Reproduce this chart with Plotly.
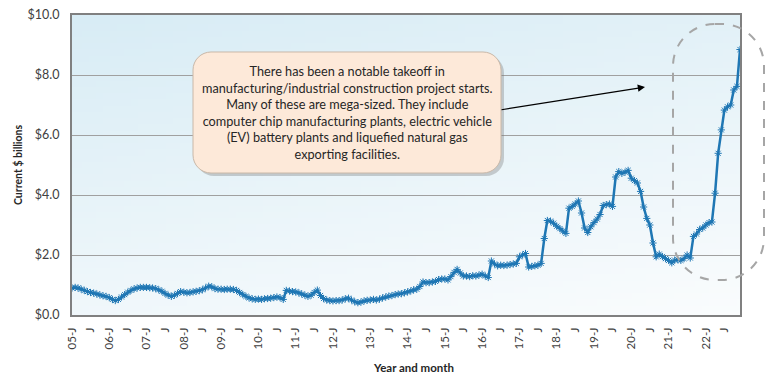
import base64
import struct
import zlib

import pandas as pd
import plotly.graph_objects as go

# Monthly values, Jan 2005 - Dec 2022 (current $ billions)
values = [
    # 2005
    0.90, 0.92, 0.90, 0.86, 0.82, 0.78, 0.75, 0.73, 0.70, 0.67, 0.64, 0.62,
    # 2006
    0.58, 0.52, 0.48, 0.52, 0.60, 0.68, 0.76, 0.82, 0.87, 0.90, 0.92, 0.92,
    # 2007
    0.92, 0.91, 0.90, 0.88, 0.84, 0.79, 0.72, 0.66, 0.62, 0.66, 0.72, 0.78,
    # 2008
    0.76, 0.74, 0.75, 0.77, 0.79, 0.81, 0.84, 0.90, 0.96, 0.94, 0.88, 0.86,
    # 2009
    0.86, 0.85, 0.86, 0.86, 0.85, 0.82, 0.75, 0.68, 0.62, 0.57, 0.54, 0.52,
    # 2010
    0.53, 0.52, 0.54, 0.55, 0.56, 0.58, 0.60, 0.58, 0.52, 0.82, 0.80, 0.78,
    # 2011
    0.77, 0.74, 0.70, 0.66, 0.62, 0.66, 0.75, 0.83, 0.65, 0.55, 0.50, 0.48,
    # 2012
    0.47, 0.48, 0.48, 0.50, 0.54, 0.56, 0.50, 0.44, 0.41, 0.43, 0.47, 0.49,
    # 2013
    0.50, 0.52, 0.50, 0.53, 0.57, 0.60, 0.63, 0.65, 0.68, 0.70, 0.71, 0.74,
    # 2014
    0.77, 0.80, 0.84, 0.86, 0.95, 1.10, 1.08, 1.08, 1.10, 1.12, 1.18, 1.20,
    # 2015
    1.20, 1.17, 1.28, 1.42, 1.52, 1.40, 1.30, 1.30, 1.28, 1.31, 1.30, 1.33,
    # 2016
    1.36, 1.30, 1.25, 1.80, 1.70, 1.64, 1.66, 1.65, 1.66, 1.68, 1.70, 1.72,
    # 2017
    1.94, 2.00, 2.05, 1.60, 1.62, 1.64, 1.66, 1.72, 2.55, 3.15, 3.13, 3.06,
    # 2018
    2.96, 2.88, 2.80, 2.72, 3.56, 3.62, 3.70, 3.80, 3.40, 2.90, 2.75, 2.94,
    # 2019
    3.08, 3.20, 3.35, 3.65, 3.68, 3.70, 3.62, 4.60, 4.78, 4.72, 4.76, 4.82,
    # 2020
    4.56, 4.48, 4.40, 4.12, 3.60, 3.22, 3.00, 2.40, 1.94, 2.03, 1.95, 1.88,
    # 2021
    1.82, 1.74, 1.83, 1.84, 1.82, 1.88, 2.00, 1.90, 2.62, 2.70, 2.85, 2.90,
    # 2022
    3.00, 3.08, 3.10, 4.06, 5.39, 6.17, 6.83, 6.94, 7.00, 7.50, 7.62, 8.85,
]
months = pd.date_range("2005-01-01", periods=len(values), freq="MS")

tick_dates = [d for d in months if d.month in (1, 7)]
tick_text = [f"{d.strftime('%y')}-J" if d.month == 1 else "J" for d in tick_dates]
y_ticks = [0, 2, 4, 6, 8, 10]
y_text = [f"${v:.1f}" for v in y_ticks]

note = ("There has been a notable takeoff in<br>"
        "manufacturing/industrial construction project starts.<br>"
        "Many of these are mega-sized. They include<br>"
        "computer chip manufacturing plants, electric vehicle<br>"
        "(EV) battery plants and liquefied natural gas<br>"
        "exporting facilities.")

# The page body has an 8px default margin; size the figure to fit inside it.
OFF = 8
W, H = 778 - 2 * OFF, 385 - 2 * OFF
# plot area in page pixels: x 72..740, y 15..315
ML, MT = 72 - OFF, 15 - OFF
MR = W - (740 - OFF)
MB = H - (315 - OFF)
PW, PH = W - ML - MR, H - MT - MB


def to_paper(px, py):
    """page-pixel position -> paper coordinates"""
    fx, fy = px - OFF, py - OFF
    return ((fx - ML) / PW, (H - MB - fy) / PH)


def rounded_path(x0, y0, x1, y1, r):
    k = 0.5523 * r
    pts = [
        ("M", [(x0 + r, y0)]),
        ("L", [(x1 - r, y0)]),
        ("C", [(x1 - r + k, y0), (x1, y0 + r - k), (x1, y0 + r)]),
        ("L", [(x1, y1 - r)]),
        ("C", [(x1, y1 - r + k), (x1 - r + k, y1), (x1 - r, y1)]),
        ("L", [(x0 + r, y1)]),
        ("C", [(x0 + r - k, y1), (x0, y1 - r + k), (x0, y1 - r)]),
        ("L", [(x0, y0 + r)]),
        ("C", [(x0, y0 + r - k), (x0 + r - k, y0), (x0 + r, y0)]),
    ]
    s = ""
    for cmd, ps in pts:
        s += cmd + " " + " ".join(f"{to_paper(*p)[0]:.5f},{to_paper(*p)[1]:.5f}" for p in ps) + " "
    return s + "Z"


def gradient_png(w, h, c0, c1):
    """diagonal gradient (top-left c0 -> bottom-right c1) as a PNG data URI"""
    rows = []
    for j in range(h):
        row = bytearray([0])
        for i in range(w):
            t = 0.7 * j / (h - 1) + 0.3 * i / (w - 1)
            row += bytes(int(round(a + (b - a) * t)) for a, b in zip(c0, c1))
        rows.append(bytes(row))
    raw = b"".join(rows)

    def chunk(tag, data):
        c = struct.pack(">I", len(data)) + tag + data
        return c + struct.pack(">I", zlib.crc32(tag + data) & 0xFFFFFFFF)

    png = b"\x89PNG\r\n\x1a\n"
    png += chunk(b"IHDR", struct.pack(">IIBBBBB", w, h, 8, 2, 0, 0, 0))
    png += chunk(b"IDAT", zlib.compress(raw, 9))
    png += chunk(b"IEND", b"")
    return "data:image/png;base64," + base64.b64encode(png).decode()


FONT = "Lato, 'Open Sans', sans-serif"

fig = go.Figure()
fig.add_trace(go.Scatter(
    x=months, y=values, mode="lines+markers",
    line=dict(color="#1f77b4", width=2.5),
    marker=dict(symbol="asterisk-open", size=6, line=dict(color="#5b9bd5", width=1)),
    hoverinfo="x+y", showlegend=False,
))

shapes = [
    # annotation box shadow
    dict(type="path", xref="paper", yref="paper",
         path=rounded_path(196, 55, 504, 176, 18),
         fillcolor="rgba(120,120,120,0.35)", line=dict(width=0), layer="above"),
    # annotation box
    dict(type="path", xref="paper", yref="paper",
         path=rounded_path(193, 52, 501, 173, 18),
         fillcolor="#fde9d9", line=dict(color="#c9b8a8", width=1), layer="above"),
    # dashed highlight
    dict(type="path", xref="paper", yref="paper",
         path=rounded_path(673, 24, 764, 280, 42),
         fillcolor="rgba(0,0,0,0)", line=dict(color="#a6a6a6", width=2, dash="dash"),
         layer="above"),
]

bx, by = to_paper(347, 112.5)
hx, hy = to_paper(645, 87)
tx, ty = to_paper(413, 367)
annotations = [
    dict(xref="paper", yref="paper", x=bx, y=by, text=note, showarrow=False,
         font=dict(family=FONT, size=12.7, color="#262626"), align="center",
         xanchor="center", yanchor="middle"),
    dict(xref="paper", yref="paper", x=hx, y=hy, text="", showarrow=True,
         ax=-145, ay=23, arrowhead=2, arrowsize=1.2, arrowwidth=1.2, arrowcolor="#000000"),
    dict(xref="paper", yref="paper", x=tx, y=ty, text="<b>Year and month</b>",
         showarrow=False, font=dict(family=FONT, size=11.5, color="#262626"),
         xanchor="center", yanchor="middle"),
    dict(xref="paper", yref="paper", x=to_paper(18, 0)[0], y=0.5,
         text="<b>Current $ billions</b>", textangle=-90, showarrow=False,
         font=dict(family=FONT, size=10.5, color="#262626"),
         xanchor="center", yanchor="middle"),
]

fig.update_layout(
    width=W, height=H,
    margin=dict(l=ML, r=MR, t=MT, b=MB, autoexpand=False),
    paper_bgcolor="white",
    plot_bgcolor="rgba(0,0,0,0)",
    font=dict(family=FONT, size=12, color="#404040"),
    shapes=shapes,
    annotations=annotations,
    images=[dict(source=gradient_png(96, 48, (216, 236, 245), (250, 252, 253)),
                 xref="paper", yref="paper", x=0, y=1, sizex=1, sizey=1,
                 xanchor="left", yanchor="top", sizing="stretch", layer="below")],
    xaxis=dict(
        automargin=False,
        range=[months[0], months[-1]],
        tickmode="array", tickvals=tick_dates, ticktext=tick_text,
        tickangle=-90, tickfont=dict(size=11.5, color="#404040"),
        ticks="outside", ticklen=6, tickcolor="rgba(0,0,0,0)",
        ticklabeloverflow="allow",
        showgrid=False, zeroline=False,
        showline=True, linecolor="#808080", linewidth=2, mirror=True,
    ),
    yaxis=dict(
        automargin=False,
        range=[0, 10],
        tickmode="array", tickvals=y_ticks, ticktext=y_text,
        tickfont=dict(size=12.5, color="#404040"),
        ticks="outside", ticklen=8, tickcolor="rgba(0,0,0,0)",
        ticklabeloverflow="allow",
        showgrid=True, gridcolor="#a0a0a0", gridwidth=1,
        zeroline=False,
        showline=True, linecolor="#808080", linewidth=2, mirror=True,
    ),
)

fig.write_html("out.html")
